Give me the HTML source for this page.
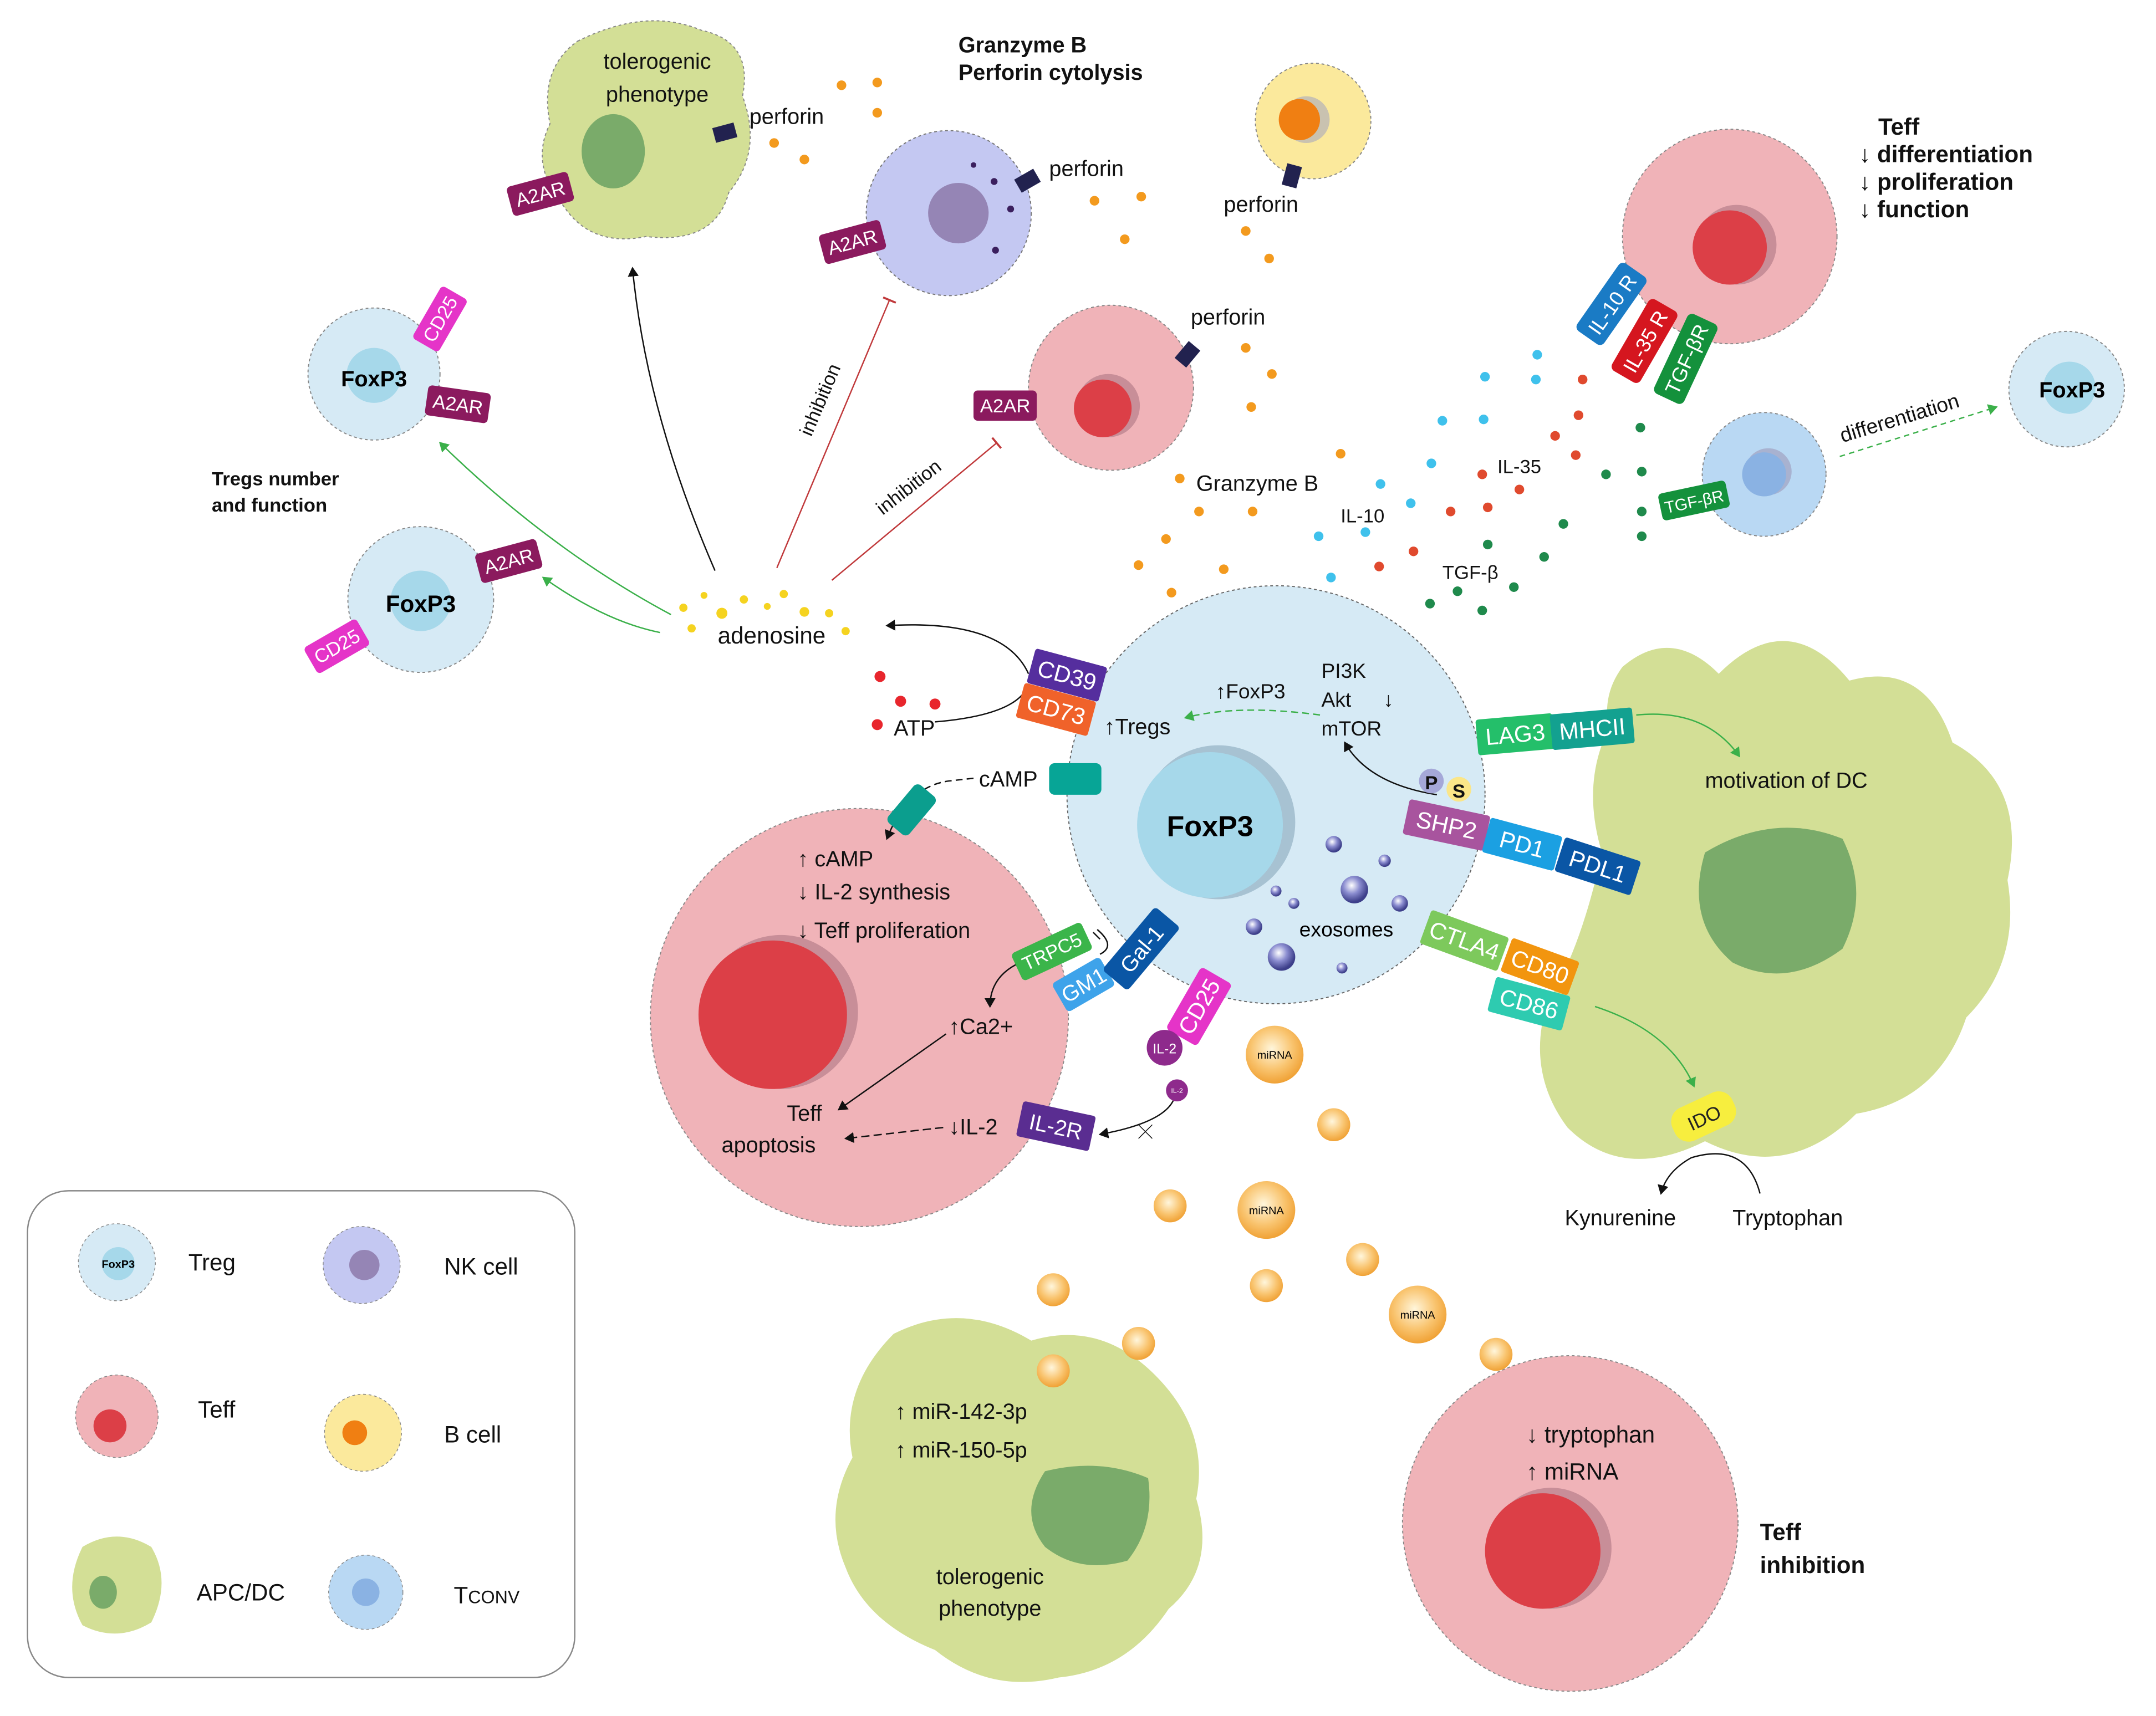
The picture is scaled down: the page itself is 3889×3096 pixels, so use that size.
<!DOCTYPE html>
<html><head><meta charset="utf-8"><style>
html,body{margin:0;padding:0;background:#fff}
svg{display:block}
text{font-family:"Liberation Sans",sans-serif}
</style></head><body>
<svg width="3889" height="3096" viewBox="0 0 1568 1248" preserveAspectRatio="none" xmlns="http://www.w3.org/2000/svg">
<defs>
<marker id="ak" markerWidth="8" markerHeight="8" refX="6" refY="4" orient="auto" markerUnits="userSpaceOnUse"><path d="M0,0 L7,4 L0,8 z" fill="#111"/></marker>
<marker id="ag" markerWidth="8" markerHeight="8" refX="6" refY="4" orient="auto" markerUnits="userSpaceOnUse"><path d="M0,0 L7,4 L0,8 z" fill="#3bb04a"/></marker>
<marker id="tr" markerWidth="2" markerHeight="10" refX="1" refY="5" orient="auto" markerUnits="userSpaceOnUse"><rect x="0" y="0" width="1.5" height="10" fill="#c0393b"/></marker>
<radialGradient id="exo" cx="40%" cy="35%" r="60%"><stop offset="0" stop-color="#fff"/><stop offset="0.5" stop-color="#8b8dd0"/><stop offset="1" stop-color="#3d3f8a"/></radialGradient>
<radialGradient id="mi" cx="45%" cy="40%" r="60%"><stop offset="0" stop-color="#fff6dc"/><stop offset="0.6" stop-color="#f9c46f"/><stop offset="1" stop-color="#f0a236"/></radialGradient>
</defs>

<path d="M420,30 Q470,5 510,22 Q548,30 540,70 Q555,110 530,140 Q520,178 470,172 Q430,180 410,150 Q385,120 400,90 Q392,50 420,30z" fill="#d3df96" stroke="#888" stroke-width="0.8" stroke-dasharray="2,2"/>
<ellipse cx="446" cy="110" rx="23" ry="27" fill="#7aab6a"/>
<circle cx="690" cy="155" r="60" fill="#c4c8f2" stroke="#777" stroke-width="0.8" stroke-dasharray="2,2"/>
<circle cx="697" cy="155" r="22" fill="#9585b5"/>
<circle cx="723" cy="132" r="2.5" fill="#3b1f5e"/><circle cx="735" cy="152" r="2.5" fill="#3b1f5e"/><circle cx="724" cy="182" r="2.5" fill="#3b1f5e"/><circle cx="708" cy="120" r="2" fill="#3b1f5e"/>
<circle cx="955" cy="88" r="42" fill="#fbe99c" stroke="#888" stroke-width="0.8" stroke-dasharray="2,2"/>
<circle cx="950" cy="87" r="17" fill="#c9c2b0"/><circle cx="945" cy="87" r="15" fill="#f07f12"/>
<circle cx="1258" cy="172" r="78" fill="#f0b3b8" stroke="#888" stroke-width="0.8" stroke-dasharray="2,2"/>
<circle cx="1263" cy="178" r="29" fill="#c88e98"/><circle cx="1258" cy="180" r="27" fill="#dc3f47"/>
<circle cx="808" cy="282" r="60" fill="#f0b3b8" stroke="#888" stroke-width="0.8" stroke-dasharray="2,2"/>
<circle cx="806" cy="295" r="23" fill="#c88e98"/><circle cx="802" cy="297" r="21" fill="#dc3f47"/>
<circle cx="1283" cy="345" r="45" fill="#b9d8f3" stroke="#888" stroke-width="0.8" stroke-dasharray="2,2"/>
<circle cx="1286" cy="343" r="17" fill="#a8b2d0"/><circle cx="1283" cy="345" r="16" fill="#8ab2e3"/>
<circle cx="1503" cy="283" r="42" fill="#d6eaf5" stroke="#888" stroke-width="0.8" stroke-dasharray="2,2"/>
<circle cx="1505" cy="282" r="19" fill="#a6d8ea"/>
<text x="1507" y="289" font-size="16" font-weight="bold" text-anchor="middle">FoxP3</text>
<circle cx="272" cy="272" r="48" fill="#d6eaf5" stroke="#888" stroke-width="0.8" stroke-dasharray="2,2"/>
<circle cx="272" cy="273" r="20" fill="#a6d8ea"/>
<text x="272" y="281" font-size="16" font-weight="bold" text-anchor="middle">FoxP3</text>
<circle cx="306" cy="436" r="53" fill="#d6eaf5" stroke="#888" stroke-width="0.8" stroke-dasharray="2,2"/>
<circle cx="306" cy="437" r="22" fill="#a6d8ea"/>
<text x="306" y="445" font-size="17" font-weight="bold" text-anchor="middle">FoxP3</text>

<path d="M1180,485 Q1215,455 1250,490 Q1300,440 1345,495 Q1400,480 1420,540 Q1475,570 1460,640 Q1470,700 1430,740 Q1410,800 1350,810 Q1300,860 1240,830 Q1180,860 1140,820 Q1110,780 1125,730 Q1150,690 1165,620 Q1150,570 1170,530 Q1165,505 1180,485z" fill="#d3df96"/>
<path d="M1240,620 Q1290,590 1340,610 Q1360,650 1340,690 Q1300,720 1260,700 Q1225,670 1240,620z" fill="#7aab6a"/>
<path d="M650,970 Q700,945 750,975 Q800,960 840,1000 Q880,1040 870,1090 Q885,1140 850,1170 Q820,1215 770,1220 Q720,1232 680,1200 Q630,1180 615,1140 Q598,1100 620,1060 Q610,1010 650,970z" fill="#d3df96"/>
<path d="M760,1070 Q800,1060 835,1075 Q840,1110 820,1135 Q785,1145 760,1125 Q740,1100 760,1070z" fill="#7aab6a"/>
<circle cx="1142" cy="1108" r="122" fill="#f0b3b8" stroke="#888" stroke-width="0.8" stroke-dasharray="2,2"/>
<circle cx="1128" cy="1126" r="44" fill="#c88e98"/><circle cx="1122" cy="1128" r="42" fill="#dc3f47"/>
<circle cx="625" cy="740" r="152" fill="#f0b3b8" stroke="#888" stroke-width="0.8" stroke-dasharray="2,2"/>
<circle cx="568" cy="736" r="56" fill="#c88e98"/><circle cx="562" cy="738" r="54" fill="#dc3f47"/>
<circle cx="928" cy="578" r="152" fill="#d6eaf5" stroke="#666" stroke-width="0.8" stroke-dasharray="2,2"/>
<circle cx="886" cy="598" r="56" fill="#a7c2d2"/><circle cx="880" cy="600" r="53" fill="#a6d8ea"/>
<text x="880" y="608" font-size="21" font-weight="bold" text-anchor="middle">FoxP3</text>

<circle cx="970" cy="614" r="6" fill="url(#exo)"/><circle cx="1007" cy="626" r="4.5" fill="url(#exo)"/>
<circle cx="985" cy="647" r="10" fill="url(#exo)"/><circle cx="928" cy="648" r="4" fill="url(#exo)"/>
<circle cx="941" cy="657" r="4" fill="url(#exo)"/><circle cx="1018" cy="657" r="6" fill="url(#exo)"/>
<circle cx="912" cy="674" r="6" fill="url(#exo)"/><circle cx="932" cy="696" r="10" fill="url(#exo)"/>
<circle cx="976" cy="704" r="4" fill="url(#exo)"/>
<text x="945" y="681" font-size="15">exosomes</text>

<g>
<circle cx="927" cy="767" r="21" fill="url(#mi)"/><text x="927" y="770" font-size="8" text-anchor="middle">miRNA</text>
<circle cx="921" cy="880" r="21" fill="url(#mi)"/><text x="921" y="883" font-size="8" text-anchor="middle">miRNA</text>
<circle cx="1031" cy="956" r="21" fill="url(#mi)"/><text x="1031" y="959" font-size="8" text-anchor="middle">miRNA</text>
<circle cx="970" cy="818" r="12" fill="url(#mi)"/><circle cx="851" cy="877" r="12" fill="url(#mi)"/>
<circle cx="991" cy="916" r="12" fill="url(#mi)"/><circle cx="921" cy="935" r="12" fill="url(#mi)"/>
<circle cx="766" cy="938" r="12" fill="url(#mi)"/><circle cx="828" cy="977" r="12" fill="url(#mi)"/>
<circle cx="766" cy="997" r="12" fill="url(#mi)"/><circle cx="1088" cy="985" r="12" fill="url(#mi)"/>
</g>

<g fill="#f39a1e">
<circle cx="612" cy="62" r="3.5"/><circle cx="638" cy="60" r="3.5"/><circle cx="638" cy="82" r="3.5"/><circle cx="563" cy="104" r="3.5"/><circle cx="585" cy="116" r="3.5"/>
<circle cx="796" cy="146" r="3.5"/><circle cx="830" cy="143" r="3.5"/><circle cx="818" cy="174" r="3.5"/>
<circle cx="906" cy="168" r="3.5"/><circle cx="923" cy="188" r="3.5"/>
<circle cx="906" cy="253" r="3.5"/><circle cx="925" cy="272" r="3.5"/><circle cx="910" cy="296" r="3.5"/>
<circle cx="975" cy="330" r="3.5"/><circle cx="858" cy="348" r="3.5"/><circle cx="872" cy="372" r="3.5"/><circle cx="911" cy="372" r="3.5"/>
<circle cx="848" cy="392" r="3.5"/><circle cx="828" cy="411" r="3.5"/><circle cx="890" cy="414" r="3.5"/><circle cx="852" cy="431" r="3.5"/>
</g>
<g fill="#3fc1ec">
<circle cx="1118" cy="258" r="3.5"/><circle cx="1080" cy="274" r="3.5"/><circle cx="1117" cy="276" r="3.5"/>
<circle cx="1049" cy="306" r="3.5"/><circle cx="1079" cy="305" r="3.5"/><circle cx="1041" cy="337" r="3.5"/>
<circle cx="1004" cy="352" r="3.5"/><circle cx="1026" cy="366" r="3.5"/><circle cx="993" cy="387" r="3.5"/><circle cx="959" cy="390" r="3.5"/><circle cx="968" cy="420" r="3.5"/>
</g>
<g fill="#e04a2e">
<circle cx="1151" cy="276" r="3.5"/><circle cx="1148" cy="302" r="3.5"/><circle cx="1131" cy="317" r="3.5"/><circle cx="1146" cy="331" r="3.5"/>
<circle cx="1078" cy="345" r="3.5"/><circle cx="1105" cy="356" r="3.5"/><circle cx="1055" cy="372" r="3.5"/><circle cx="1082" cy="369" r="3.5"/>
<circle cx="1028" cy="401" r="3.5"/><circle cx="1003" cy="412" r="3.5"/><circle cx="640" cy="492" r="4" fill="#e8262d"/><circle cx="655" cy="510" r="4" fill="#e8262d"/><circle cx="680" cy="512" r="4" fill="#e8262d"/><circle cx="638" cy="527" r="4" fill="#e8262d"/>
</g>
<g fill="#1f8a4c">
<circle cx="1193" cy="311" r="3.5"/><circle cx="1194" cy="343" r="3.5"/><circle cx="1168" cy="345" r="3.5"/><circle cx="1194" cy="372" r="3.5"/>
<circle cx="1137" cy="381" r="3.5"/><circle cx="1194" cy="390" r="3.5"/><circle cx="1082" cy="396" r="3.5"/><circle cx="1123" cy="405" r="3.5"/>
<circle cx="1060" cy="430" r="3.5"/><circle cx="1040" cy="439" r="3.5"/><circle cx="1101" cy="427" r="3.5"/><circle cx="1078" cy="444" r="3.5"/>
</g>
<g fill="#f5d320">
<circle cx="497" cy="442" r="3"/><circle cx="512" cy="433" r="2.5"/><circle cx="525" cy="446" r="4"/><circle cx="541" cy="436" r="3"/><circle cx="558" cy="441" r="2.5"/><circle cx="570" cy="432" r="3"/><circle cx="585" cy="445" r="3.5"/><circle cx="603" cy="446" r="3"/><circle cx="503" cy="457" r="3"/><circle cx="615" cy="459" r="3"/>
</g>

<g fill="none" stroke="#111" stroke-width="1">
<path d="M520,415 Q470,300 460,195" marker-end="url(#ak)"/>
<path d="M748,490 Q730,450 645,455" marker-end="url(#ak)"/>
<path d="M680,525 Q740,520 748,498"/>
<path d="M1045,578 Q995,570 978,540" marker-end="url(#ak)"/>
<path d="M708,566 L690,568 Q660,572 645,610" stroke-dasharray="5,3" marker-end="url(#ak)"/>
<path d="M742,700 Q720,710 720,732" marker-end="url(#ak)"/>
<path d="M798,676 Q812,688 800,694"/><path d="M800,683 L795,678" />
<path d="M688,752 L610,807" marker-end="url(#ak)"/>
<path d="M686,820 L615,828" stroke-dasharray="6,3" marker-end="url(#ak)"/>
<path d="M855,793 Q855,815 800,825" marker-end="url(#ak)"/>
<path d="M828,818 L838,828 M838,818 L828,828" stroke-width="0.6"/>
<path d="M1280,868 Q1270,830 1230,842 Q1212,852 1208,868" marker-end="url(#ak)"/>
</g>
<g fill="none" stroke="#3bb04a" stroke-width="1">
<path d="M488,447 Q400,400 320,322" marker-end="url(#ag)"/>
<path d="M480,460 Q440,452 395,420" marker-end="url(#ag)"/>
<path d="M960,520 Q900,512 862,522" stroke-dasharray="5,3" marker-end="url(#ag)"/>
<path d="M1190,520 Q1240,515 1265,550" marker-end="url(#ag)"/>
<path d="M1160,732 Q1215,750 1232,790" marker-end="url(#ag)"/>
<path d="M1338,332 L1452,296" stroke-dasharray="4,3" marker-end="url(#ag)"/>
</g>
<g fill="none" stroke="#c0393b" stroke-width="1">
<path d="M565,413 L647,218" marker-end="url(#tr)"/>
<path d="M605,422 L725,322" marker-end="url(#tr)"/>
</g>

<g font-size="15" fill="#fff" text-anchor="middle">
<g transform="translate(393,141) rotate(-15)"><rect x="-23" y="-11" width="46" height="22" rx="3" fill="#8b1a5e"/><text y="5" font-size="14">A2AR</text></g>
<g transform="translate(620,176) rotate(-15)"><rect x="-23" y="-11" width="46" height="22" rx="3" fill="#8b1a5e"/><text y="5" font-size="14">A2AR</text></g>
<g transform="translate(731,295)"><rect x="-23" y="-11" width="46" height="22" rx="3" fill="#8b1a5e"/><text y="5" font-size="14">A2AR</text></g>
<g transform="translate(333,294) rotate(8)"><rect x="-23" y="-11" width="46" height="22" rx="3" fill="#8b1a5e"/><text y="5" font-size="14">A2AR</text></g>
<g transform="translate(370,408) rotate(-15)"><rect x="-23" y="-11" width="46" height="22" rx="3" fill="#8b1a5e"/><text y="5" font-size="14">A2AR</text></g>
<g transform="translate(320,232) rotate(-60)"><rect x="-22" y="-11" width="44" height="22" rx="3" fill="#e534c8"/><text y="5" font-size="14">CD25</text></g>
<g transform="translate(245,470) rotate(-30)"><rect x="-22" y="-11" width="44" height="22" rx="3" fill="#e534c8"/><text y="5" font-size="14">CD25</text></g>
<g transform="translate(872,732) rotate(-60)"><rect x="-26" y="-13" width="52" height="26" rx="3" fill="#e534c8"/><text y="6" font-size="17">CD25</text></g>
<g transform="translate(1172,221) rotate(-55)"><rect x="-30" y="-12" width="60" height="24" rx="4" fill="#1a7bc5"/><text y="6">IL-10 R</text></g>
<g transform="translate(1196,248) rotate(-60)"><rect x="-30" y="-12" width="60" height="24" rx="4" fill="#d5161f"/><text y="6">IL-35 R</text></g>
<g transform="translate(1226,261) rotate(-65)"><rect x="-32" y="-12" width="64" height="24" rx="4" fill="#14913c"/><text y="6">TGF-βR</text></g>
<g transform="translate(1232,364) rotate(-12)"><rect x="-25" y="-10" width="50" height="20" rx="3" fill="#14913c"/><text y="5" font-size="12">TGF-βR</text></g>
<g transform="translate(776,491) rotate(15)"><rect x="-27" y="-13" width="54" height="26" rx="2" fill="#552e9e"/><text y="6" font-size="17">CD39</text></g>
<g transform="translate(768,516) rotate(15)"><rect x="-27" y="-13" width="54" height="26" rx="2" fill="#f0622a"/><text y="6" font-size="17">CD73</text></g>
<rect x="763" y="555" width="38" height="23" rx="4" fill="#07a596"/>
<g transform="translate(663,589) rotate(-50)"><rect x="-18" y="-10" width="36" height="20" rx="4" fill="#0b9e8e"/></g>
<g transform="translate(1102,534) rotate(-5)"><rect x="-28" y="-13" width="56" height="26" rx="2" fill="#24bf6a"/><text y="6" font-size="17">LAG3</text></g>
<g transform="translate(1158,530) rotate(-5)"><rect x="-30" y="-13" width="60" height="26" rx="2" fill="#13a190"/><text y="6" font-size="17">MHCII</text></g>
<g transform="translate(1052,600) rotate(12)"><rect x="-30" y="-13" width="60" height="26" rx="2" fill="#a8549e"/><text y="6" font-size="17">SHP2</text></g>
<g transform="translate(1107,614) rotate(15)"><rect x="-27" y="-13" width="54" height="26" rx="2" fill="#1ba0e2"/><text y="6" font-size="17">PD1</text></g>
<g transform="translate(1162,630) rotate(18)"><rect x="-29" y="-13" width="58" height="26" rx="2" fill="#0a56a5"/><text y="6" font-size="17">PDL1</text></g>
<circle cx="1041" cy="568" r="9" fill="#a5a8d8"/><text x="1041" y="574" font-size="14" font-weight="bold" fill="#111">P</text>
<circle cx="1061" cy="574" r="9" fill="#fbe688"/><text x="1061" y="580" font-size="14" font-weight="bold" fill="#111">S</text>
<g transform="translate(1065,684) rotate(20)"><rect x="-30" y="-13" width="60" height="26" rx="2" fill="#7dc95c"/><text y="6" font-size="17">CTLA4</text></g>
<g transform="translate(1120,703) rotate(20)"><rect x="-26" y="-13" width="52" height="26" rx="2" fill="#f2950f"/><text y="6" font-size="17">CD80</text></g>
<g transform="translate(1112,730) rotate(15)"><rect x="-28" y="-13" width="56" height="26" rx="2" fill="#2ecbb0"/><text y="6" font-size="17">CD86</text></g>
<g transform="translate(1239,812) rotate(-25)"><rect x="-24" y="-13" width="48" height="26" rx="11" fill="#f7ee3e"/><text y="6" font-size="14" fill="#222">IDO</text></g>
<g transform="translate(765,692) rotate(-25)"><rect x="-28" y="-11" width="56" height="22" rx="3" fill="#3bb54a"/><text y="5" font-size="14">TRPC5</text></g>
<g transform="translate(788,716) rotate(-30)"><rect x="-20" y="-12" width="40" height="24" rx="3" fill="#3ea3ea"/><text y="6" font-size="16">GM1</text></g>
<g transform="translate(830,690) rotate(-50)"><rect x="-30" y="-12" width="60" height="24" rx="3" fill="#0a56a5"/><text y="6" font-size="16">Gal-1</text></g>
<g transform="translate(768,819) rotate(12)"><rect x="-27" y="-13" width="54" height="26" rx="2" fill="#5a2d91"/><text y="6" font-size="16">IL-2R</text></g>
<circle cx="847" cy="762" r="13" fill="#8e2a8c"/><text x="847" y="766" font-size="10">IL-2</text>
<circle cx="856" cy="793" r="8" fill="#8e2a8c"/><text x="856" y="795" font-size="5">IL-2</text>
</g>
<rect x="519" y="91" width="16" height="11" fill="#22224f" transform="rotate(-15 527 96)"/>
<rect x="739" y="126" width="16" height="11" fill="#22224f" transform="rotate(-30 747 131)"/>
<rect x="934" y="120" width="11" height="16" fill="#22224f" transform="rotate(15 940 128)"/>
<rect x="858" y="250" width="11" height="16" fill="#22224f" transform="rotate(40 864 258)"/>

<g font-size="16" fill="#111">
<text x="478" y="50" text-anchor="middle">tolerogenic</text>
<text x="478" y="74" text-anchor="middle">phenotype</text>
<text x="545" y="90">perforin</text>
<text x="697" y="38" font-weight="bold" font-size="16">Granzyme B</text>
<text x="697" y="58" font-weight="bold" font-size="16">Perforin cytolysis</text>
<text x="763" y="128">perforin</text>
<text x="890" y="154">perforin</text>
<text x="866" y="236">perforin</text>
<text x="1366" y="98" font-weight="bold" font-size="17">Teff</text>
<text x="1352" y="118" font-weight="bold" font-size="17">↓ differentiation</text>
<text x="1352" y="138" font-weight="bold" font-size="17">↓ proliferation</text>
<text x="1352" y="158" font-weight="bold" font-size="17">↓ function</text>
<text x="0" y="0" font-size="15" transform="translate(1340,322) rotate(-17)">differentiation</text>
<text x="0" y="0" font-size="14" transform="translate(590,318) rotate(-67)">inhibition</text>
<text x="0" y="0" font-size="14" transform="translate(642,375) rotate(-38)">inhibition</text>
<text x="154" y="353" font-weight="bold" font-size="14">Tregs number</text>
<text x="154" y="372" font-weight="bold" font-size="14">and function</text>
<text x="870" y="357">Granzyme B</text>
<text x="1089" y="344" font-size="14">IL-35</text>
<text x="975" y="380" font-size="14">IL-10</text>
<text x="1049" y="421" font-size="14">TGF-β</text>
<text x="522" y="468" font-size="17">adenosine</text>
<text x="650" y="535" font-size="16">ATP</text>
<text x="884" y="508" font-size="15">↑FoxP3</text>
<text x="803" y="534" font-size="16">↑Tregs</text>
<text x="961" y="493" font-size="15">PI3K</text>
<text x="961" y="514" font-size="15">Akt</text>
<text x="1006" y="514" font-size="15">↓</text>
<text x="961" y="535" font-size="15">mTOR</text>
<text x="712" y="572" font-size="16">cAMP</text>
<text x="580" y="630">↑ cAMP</text>
<text x="580" y="654">↓ IL-2 synthesis</text>
<text x="580" y="682">↓ Teff proliferation</text>
<text x="690" y="752">↑Ca2+</text>
<text x="585" y="815" text-anchor="middle">Teff</text>
<text x="559" y="838" text-anchor="middle">apoptosis</text>
<text x="690" y="825">↓IL-2</text>
<text x="1240" y="573">motivation of DC</text>
<text x="1138" y="891">Kynurenine</text>
<text x="1260" y="891">Tryptophan</text>
<text x="651" y="1032">↑ miR-142-3p</text>
<text x="651" y="1060">↑ miR-150-5p</text>
<text x="720" y="1152" text-anchor="middle">tolerogenic</text>
<text x="720" y="1175" text-anchor="middle">phenotype</text>
<text x="1110" y="1049" font-size="17">↓ tryptophan</text>
<text x="1110" y="1076" font-size="17">↑ miRNA</text>
<text x="1280" y="1120" font-weight="bold" font-size="17">Teff</text>
<text x="1280" y="1144" font-weight="bold" font-size="17">inhibition</text>
</g>

<rect x="20" y="866" width="398" height="354" rx="30" fill="#fff" stroke="#888" stroke-width="1"/>
<circle cx="85" cy="918" r="28" fill="#d6eaf5" stroke="#888" stroke-width="0.6" stroke-dasharray="2,2"/>
<circle cx="86" cy="919" r="12" fill="#a6d8ea"/><text x="86" y="922" font-size="8" font-weight="bold" text-anchor="middle">FoxP3</text>
<circle cx="263" cy="920" r="28" fill="#c4c8f2" stroke="#888" stroke-width="0.6" stroke-dasharray="2,2"/>
<circle cx="265" cy="920" r="11" fill="#9585b5"/>
<circle cx="85" cy="1030" r="30" fill="#f0b3b8" stroke="#888" stroke-width="0.6" stroke-dasharray="2,2"/>
<circle cx="80" cy="1037" r="12" fill="#dc3f47"/>
<circle cx="264" cy="1042" r="28" fill="#fbe99c" stroke="#888" stroke-width="0.6" stroke-dasharray="2,2"/>
<circle cx="258" cy="1042" r="9" fill="#f07f12"/>
<path d="M60,1125 Q85,1110 110,1125 Q125,1150 110,1180 Q85,1195 60,1182 Q45,1155 60,1125z" fill="#d3df96"/>
<ellipse cx="75" cy="1158" rx="10" ry="12" fill="#7aab6a"/>
<circle cx="266" cy="1158" r="27" fill="#b9d8f3" stroke="#888" stroke-width="0.6" stroke-dasharray="2,2"/>
<circle cx="266" cy="1158" r="10" fill="#8ab2e3"/>
<g font-size="17" fill="#111">
<text x="137" y="924">Treg</text>
<text x="323" y="927">NK cell</text>
<text x="144" y="1031">Teff</text>
<text x="323" y="1049">B cell</text>
<text x="143" y="1164">APC/DC</text>
<text x="330" y="1166">T<tspan font-size="13">CONV</tspan></text>
</g>
</svg>
</body></html>
